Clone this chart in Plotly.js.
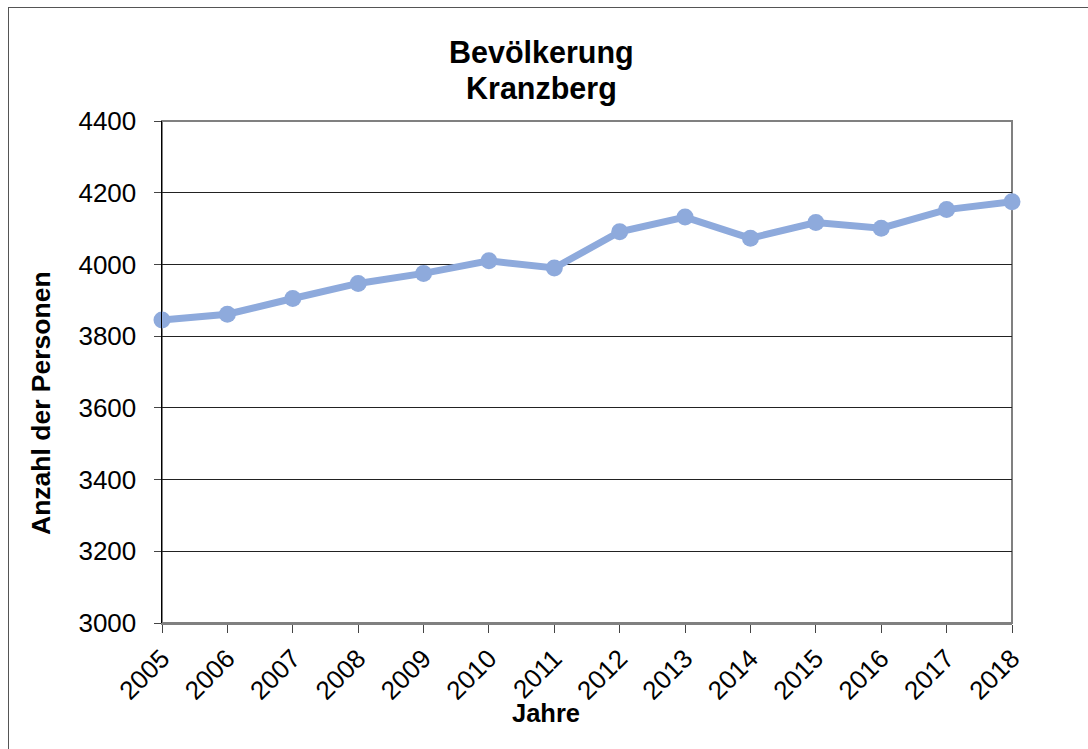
<!DOCTYPE html>
<html>
<head>
<meta charset="utf-8">
<script src="https://cdn.plot.ly/plotly-3.0.1.min.js"></script>
<style>
  html, body { margin: 0; padding: 0; background: #fff; overflow: hidden; }
  #chart { width: 1088px; height: 749px; position: relative; }
  #frame { position: absolute; left: 8px; top: 7px; width: 2000px; height: 2000px;
           border-left: 1px solid #555; border-top: 1px solid #555; pointer-events: none; }
</style>
</head>
<body>
<div id="chart"></div>
<div id="frame"></div>
<script>
const years = [2005, 2006, 2007, 2008, 2009, 2010, 2011, 2012, 2013, 2014, 2015, 2016, 2017, 2018];
const population = [3845, 3861, 3905, 3947, 3975, 4010, 3990, 4091, 4132, 4073, 4117, 4101, 4153, 4175];
const yTicks = [3000, 3200, 3400, 3600, 3800, 4000, 4200, 4400];
const titleLines = ['Bevölkerung', 'Kranzberg'];
const xTitle = 'Jahre';
const yTitle = 'Anzahl der Personen';

const font = 'Arial, "Liberation Sans", Helvetica, sans-serif';

const trace = {
  x: years,
  y: population,
  type: 'scatter',
  mode: 'lines+markers',
  line: { color: '#8eaadc', width: 7 },
  marker: { color: '#8eaadc', size: 17 },
  cliponaxis: false,
  hoverinfo: 'x+y'
};

const layout = {
  width: 1088,
  height: 749,
  margin: { l: 162, r: 76, t: 121, b: 126 },
  paper_bgcolor: '#ffffff',
  plot_bgcolor: '#ffffff',
  showlegend: false,
  font: { family: font, color: '#000', size: 26 },
  annotations: [
    { text: '<b>' + titleLines[0] + '</b>', xref: 'paper', yref: 'paper',
      x: (541 - 162) / 850, y: 1 + (121 - 52) / 502, xanchor: 'center', yanchor: 'middle',
      showarrow: false, font: { family: font, size: 30.5, color: '#000' } },
    { text: '<b>' + titleLines[1] + '</b>', xref: 'paper', yref: 'paper',
      x: (541 - 162) / 850, y: 1 + (121 - 88) / 502, xanchor: 'center', yanchor: 'middle',
      showarrow: false, font: { family: font, size: 30.5, color: '#000' } },
    { text: '<b>' + xTitle + '</b>', xref: 'paper', yref: 'paper',
      x: (546 - 162) / 850, y: -(713 - 623) / 502, xanchor: 'center', yanchor: 'middle',
      showarrow: false, font: { family: font, size: 25.5, color: '#000' } },
    { text: '<b>' + yTitle + '</b>', xref: 'paper', yref: 'paper', textangle: -90,
      x: (41 - 162) / 850, y: 1 - (403 - 121) / 502, xanchor: 'center', yanchor: 'middle',
      showarrow: false, font: { family: font, size: 26.5, color: '#000' } }
  ],
  xaxis: {
    type: 'linear',
    range: [2005, 2018],
    tickmode: 'array',
    tickvals: years,
    ticktext: years.map(String),
    tickangle: -45,
    ticks: 'outside',
    ticklen: 8,
    tickcolor: '#444',
    tickwidth: 1,
    showgrid: false,
    zeroline: false,
    showline: true,
    linecolor: '#808080',
    linewidth: 2,
    tickfont: { family: font, size: 26, color: '#000' },
    fixedrange: true
  },
  yaxis: {
    range: [3000, 4400],
    tickmode: 'array',
    tickvals: yTicks,
    ticktext: yTicks.map(String),
    ticks: 'outside',
    ticklen: 7,
    tickcolor: '#444',
    tickwidth: 1,
    ticklabelstandoff: 12,
    showgrid: true,
    gridcolor: '#222',
    gridwidth: 1,
    zeroline: false,
    showline: true,
    linecolor: '#000',
    linewidth: 1.5,
    tickfont: { family: font, size: 26, color: '#000' },
    fixedrange: true
  },
  shapes: [
    { type: 'rect', xref: 'paper', yref: 'paper', x0: 0, x1: 1, y0: 0, y1: 1,
      line: { color: '#808080', width: 2 }, fillcolor: 'rgba(0,0,0,0)', layer: 'below' }
  ]
};

Plotly.newPlot('chart', [trace], layout, { displayModeBar: false, staticPlot: true });
</script>
</body>
</html>
